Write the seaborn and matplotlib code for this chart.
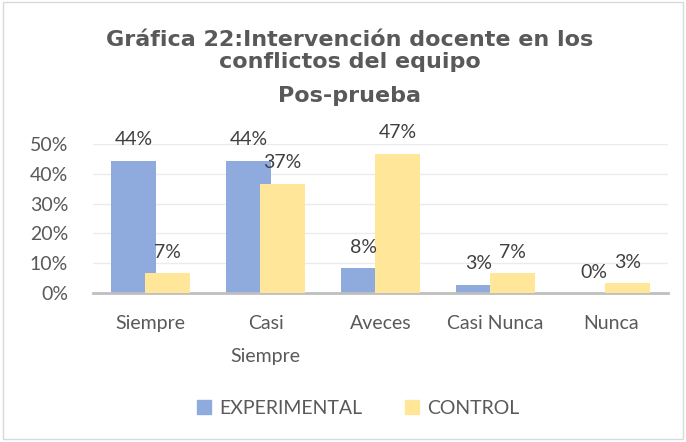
import matplotlib
matplotlib.use("Agg")
import matplotlib.pyplot as plt
import matplotlib.patches as mpatches
import seaborn as sns
import pandas as pd

# datos (porcentajes)
categorias = ["Siempre", "Casi\nSiempre", "Aveces", "Casi Nunca", "Nunca"]
experimental = [44.4, 44.4, 8.3, 2.8, 0.0]
control = [6.7, 36.7, 46.7, 6.7, 3.3]
grupos = ["EXPERIMENTAL", "CONTROL"]
colores = ["#8FAADC", "#FFE699"]

df = pd.DataFrame({
    "categoria": categorias * 2,
    "grupo": [grupos[0]] * len(categorias) + [grupos[1]] * len(categorias),
    "valor": experimental + control,
})

sns.set_style("white")
plt.rcParams["font.family"] = ["Lato", "DejaVu Sans"]

fig = plt.figure(figsize=(6.86, 4.42), dpi=100)
ax = fig.add_axes([0.1356, 0.337, 0.8384, 0.337])

sns.barplot(data=df, x="categoria", y="valor", hue="grupo", palette=colores,
            width=0.59, errorbar=None, ax=ax, legend=False, saturation=1)

# barras un poco superpuestas como en Excel
ancho = 0.39
for p in ax.patches:
    c = p.get_x() + p.get_width() / 2
    p.set_width(ancho)
    p.set_x(c - ancho / 2)
    p.set_edgecolor("none")

# el de CONTROL por encima
for cont in ax.containers[1:]:
    for p in cont:
        p.set_zorder(3)

for cont in ax.containers:
    for p in cont:
        v = p.get_height()
        ax.annotate(f"{round(v):.0f}%", (p.get_x() + p.get_width() / 2, v),
                    xytext=(0, 9), textcoords="offset points",
                    ha="center", va="bottom", fontsize=14, color="#404040",
                    annotation_clip=False)

ax.set_ylim(0, 50)
ax.set_xlim(-0.5, 4.5)
ax.set_yticks(range(0, 51, 10))
ax.set_yticklabels([f"{t}%" for t in range(0, 51, 10)])
ax.yaxis.grid(True, color="#EBEBEB", linewidth=1)
ax.set_axisbelow(True)
for s in ["top", "right", "left"]:
    ax.spines[s].set_visible(False)
ax.spines["bottom"].set_color("#BFBFBF")
ax.spines["bottom"].set_linewidth(2)
ax.tick_params(axis="y", length=0, pad=18, labelsize=14, labelcolor="#595959")
ax.tick_params(axis="x", length=0, pad=16, labelsize=14, labelcolor="#595959")
for lab in ax.get_xticklabels():
    lab.set_linespacing(2.1)
    lab.set_va("top")
ax.set_xlabel("")
ax.set_ylabel("")

# titulo
fig.text(350 / 686, 1 - 51 / 442, "Gráfica 22:Intervención docente en los\nconflictos del equipo",
         ha="center", va="center", fontsize=16, fontweight="bold", color="#595959",
         family="DejaVu Sans", linespacing=1.1)
fig.text(350 / 686, 1 - 96 / 442, "Pos-prueba", ha="center", va="center", fontsize=16,
         fontweight="bold", color="#595959", family="DejaVu Sans")

handles = [mpatches.Patch(color=c, label=g) for g, c in zip(grupos, colores)]
fig.legend(handles=handles, loc="center", bbox_to_anchor=(358 / 686, 1 - 408 / 442),
           ncol=2, frameon=False, fontsize=14, labelcolor="#595959",
           handlelength=0.75, handleheight=0.75, handletextpad=0.4, columnspacing=2.2)

fig.add_artist(mpatches.Rectangle((0.004, 0.006), 0.992, 0.99, transform=fig.transFigure,
                                  fill=False, edgecolor="#D9D9D9", linewidth=1))

fig.savefig("out.png", dpi=100)
